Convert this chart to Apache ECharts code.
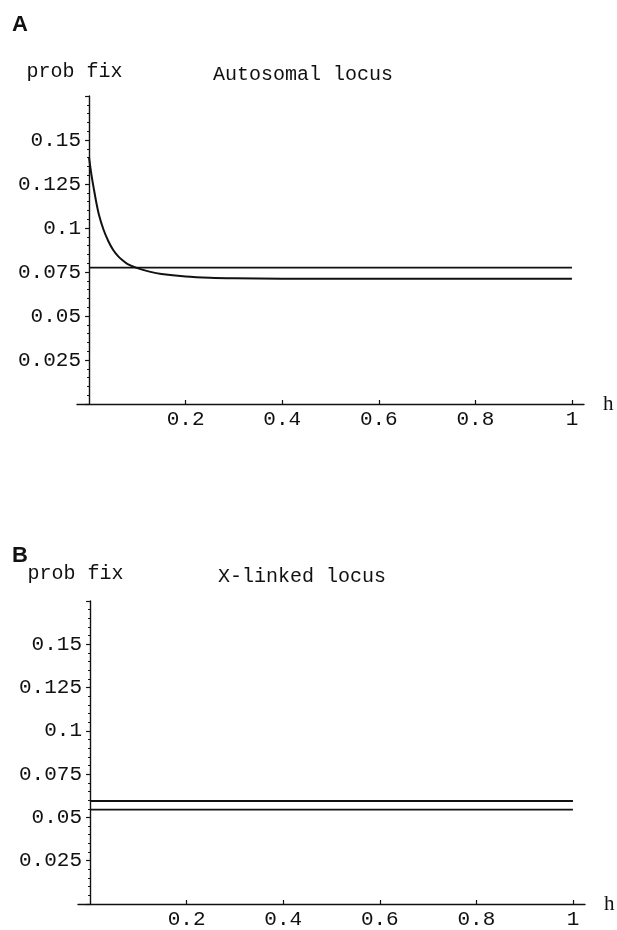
<!DOCTYPE html>
<html>
<head>
<meta charset="utf-8">
<script src="https://cdn.jsdelivr.net/npm/echarts@6/dist/echarts.min.js"></script>
<style>
  html, body { margin: 0; padding: 0; background: #ffffff; }
  #chart { width: 617px; height: 930px; }
</style>
</head>
<body>
<div id="chart"></div>
<script>
// ---- Data ----
// Panel A: autosomal locus
const hCurveA = [0, 0.005, 0.01, 0.015, 0.02, 0.03, 0.04, 0.05, 0.06, 0.07, 0.08, 0.1, 0.125, 0.15, 0.2, 0.25, 0.3, 0.4, 0.6, 0.8, 1];
const probFixCurveA = [0.140, 0.130, 0.122, 0.1145, 0.108, 0.099, 0.0925, 0.0875, 0.0840, 0.0815, 0.0795, 0.0772, 0.0752, 0.0738, 0.0724, 0.0717, 0.0714, 0.0712, 0.0711, 0.0711, 0.0711];
const hFlat = [0, 1];
const probFixFlatA = [0.0775, 0.0775];
// Panel B: X-linked locus
const probFixUpperB = [0.0595, 0.0595];
const probFixLowerB = [0.0545, 0.0545];
// Axis ticks
const xTickValues = [0.2, 0.4, 0.6, 0.8, 1];
const yTickValues = [0.025, 0.05, 0.075, 0.1, 0.125, 0.15];
const panelTitles = ['Autosomal locus', 'X-linked locus'];
const panelLetters = ['A', 'B'];
const yAxisName = 'prob fix';
const xAxisName = 'h';

const mono = "'Courier New', 'Liberation Mono', monospace";
const black = '#111111';

function pairs(xs, ys) { return xs.map((x, i) => [x, ys[i]]); }

function makeXAxis(gridIndex) {
  return {
    type: 'value', gridIndex: gridIndex,
    min: -0.025, max: 1.025,
    splitLine: { show: false },
    axisLine: { show: true, onZero: true, lineStyle: { color: black, width: 1.4 } },
    axisTick: { show: true, inside: true, length: 4, customValues: xTickValues, lineStyle: { color: black, width: 1.2 } },
    axisLabel: { show: true, customValues: xTickValues, margin: 5, color: black, fontFamily: mono, fontSize: 21,
      formatter: v => String(+(+v).toFixed(3)) },
    name: xAxisName, nameLocation: 'end', nameGap: 19,
    nameTextStyle: { fontFamily: "'Liberation Serif', 'Times New Roman', serif", fontSize: 21, color: black, align: 'left', verticalAlign: 'middle' }
  };
}
function makeYAxis(gridIndex, nameGap) {
  return {
    type: 'value', gridIndex: gridIndex,
    min: 0, max: 0.175, interval: 0.025,
    splitLine: { show: false },
    axisLine: { show: true, onZero: true, lineStyle: { color: black, width: 1.4 } },
    axisTick: { show: true, inside: false, length: 4, lineStyle: { color: black, width: 1.2 } },
    minorTick: { show: true, splitNumber: 5, length: 2, lineStyle: { color: black, width: 1 } },
    axisLabel: { show: true, customValues: yTickValues, margin: -4, color: black, fontFamily: mono, fontSize: 21,
      formatter: v => String(+(+v).toFixed(3)) },
    name: yAxisName, nameLocation: 'end', nameGap: nameGap,
    nameTextStyle: { fontFamily: mono, fontSize: 20, color: black, align: 'center', padding: [0, 29, 0, 0] }
  };
}
function lineSeries(xi, yi, data, smooth, width) {
  return {
    type: 'line', xAxisIndex: xi, yAxisIndex: yi, data: data,
    showSymbol: false, symbol: 'none', smooth: smooth ? 0.3 : false,
    lineStyle: { color: black, width: width }, silent: true, animation: false
  };
}

const chart = echarts.init(document.getElementById('chart'), null, { renderer: 'canvas' });
chart.setOption({
  backgroundColor: '#ffffff',
  animation: false,
  title: [
    { text: panelTitles[0], left: 213, top: 65, padding: 0, textStyle: { fontFamily: mono, fontSize: 20, fontWeight: 'normal', color: black } },
    { text: panelTitles[1], left: 218, top: 567, padding: 0, textStyle: { fontFamily: mono, fontSize: 20, fontWeight: 'normal', color: black } }
  ],
  graphic: [
    { type: 'text', left: 12, top: 14, style: { text: panelLetters[0], font: "bold 22px 'Liberation Sans', Arial, sans-serif", fill: black } },
    { type: 'text', left: 12, top: 545, style: { text: panelLetters[1], font: "bold 22px 'Liberation Sans', Arial, sans-serif", fill: black } }
  ],
  grid: [
    { left: 77, width: 507, top: 96, height: 308, containLabel: false },
    { left: 78, width: 507, top: 601, height: 306, containLabel: false }
  ],
  xAxis: [makeXAxis(0), makeXAxis(1)],
  yAxis: [makeYAxis(0, 14), makeYAxis(1, 17)],
  series: [
    lineSeries(0, 0, pairs(hCurveA, probFixCurveA), true, 2),
    lineSeries(0, 0, pairs(hFlat, probFixFlatA), false, 1.8),
    lineSeries(1, 1, pairs(hFlat, probFixUpperB), false, 1.8),
    lineSeries(1, 1, pairs(hFlat, probFixLowerB), false, 1.8)
  ]
});
</script>
</body>
</html>
